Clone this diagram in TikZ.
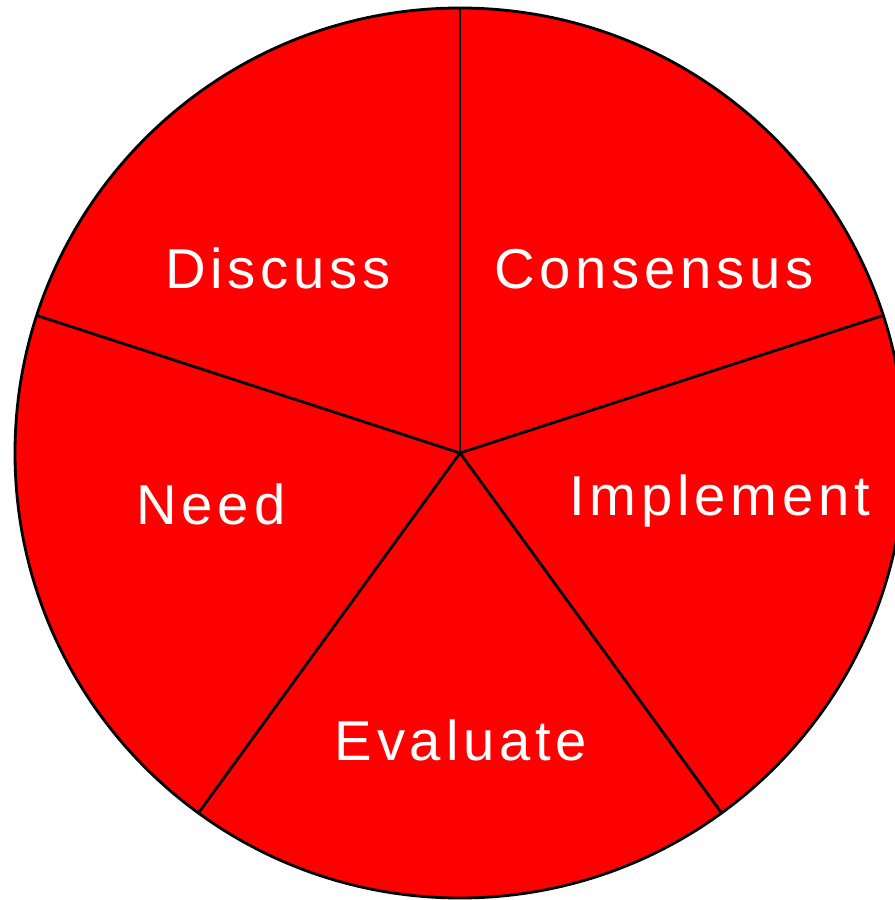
\documentclass[tikz,border=0pt]{standalone}
\usepackage{fontspec}
\setmainfont{Liberation Sans}[LetterSpace=8.5]
\usetikzlibrary{shapes}

\begin{document}
\begin{tikzpicture}[lbl/.style={text=white,font=\fontsize{16}{18}\selectfont,anchor=base,inner sep=0pt}]
			\useasboundingbox (0,0) rectangle (8.95,9.00);
			\coordinate (c) at (4.60,4.47);
			\fill[red] (c) circle (4.45);
			\draw[line width=0.8pt] (c) circle (4.45);
			\foreach \a/\n in {90/p1,18/p2,-54/p3,-126/p4,162/p5}
				\coordinate (\n) at ([shift={(\a:4.45)}]c);
			\foreach \n in {p1,p2,p3,p4,p5}
				\draw[line width=0.8pt] (c) -- (\n);
			
			\node[lbl] (discuss) at (2.78,6.11) {Discuss};
			\node[lbl] (consensus) at (6.54,6.11) {Consensus};
			\node[lbl] (need) at (2.11,3.75) {Need};
			\node[lbl] (implement) at (7.20,3.84) {Implement};
			\node[lbl] (evaluate) at (4.61,1.39) {Evaluate};
		\end{tikzpicture}
\end{document}
